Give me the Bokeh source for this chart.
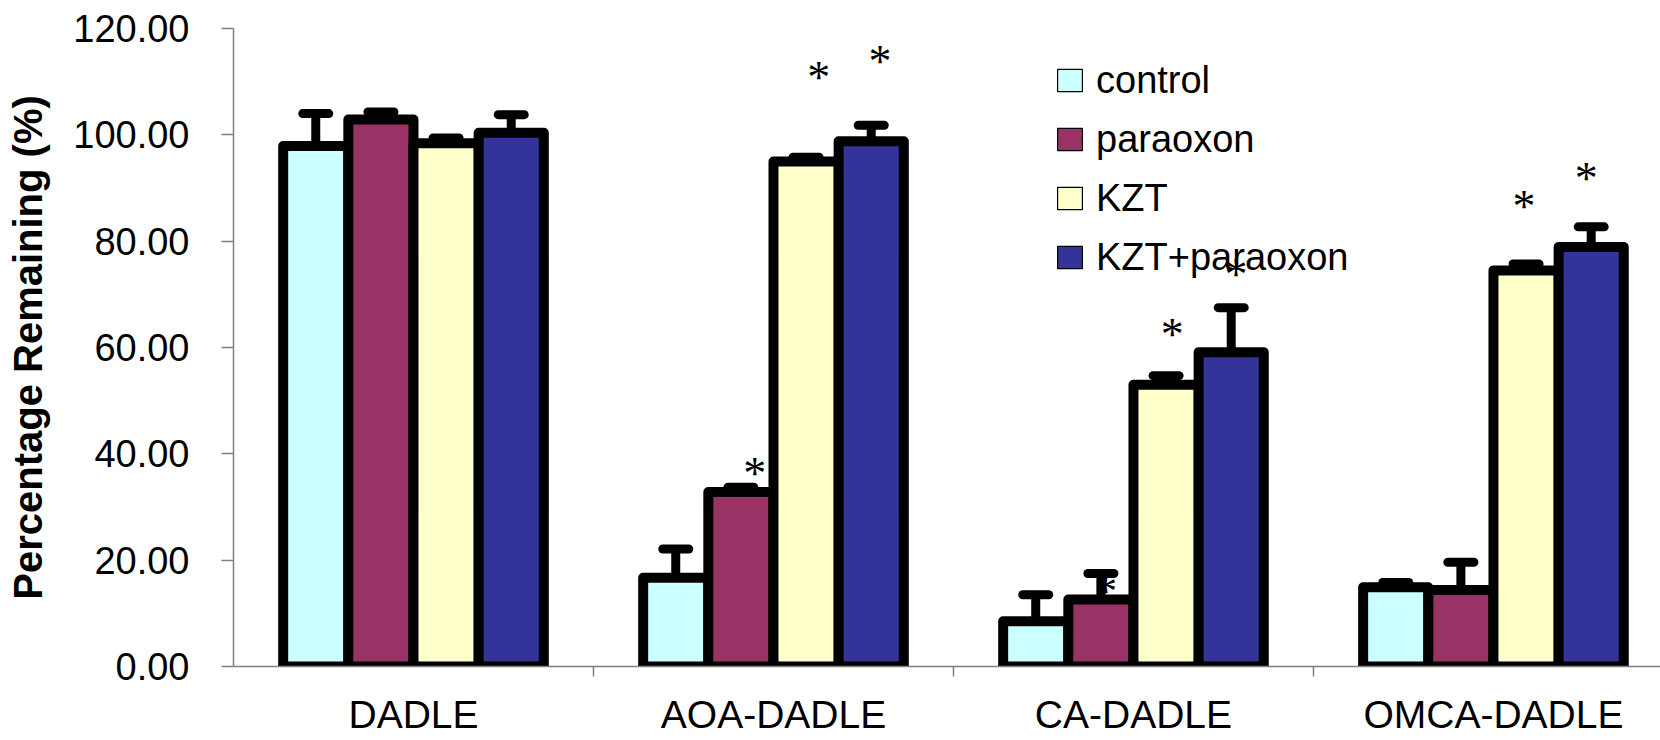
from bokeh.plotting import figure
from bokeh.models import (ColumnDataSource, Whisker, TeeHead, FixedTicker, Legend,
                          LegendItem, Range1d, PrintfTickFormatter)
from bokeh.core.properties import value
from bokeh.embed import file_html
from bokeh.resources import INLINE

# ---------------- data ----------------
categories = ["DADLE", "AOA-DADLE", "CA-DADLE", "OMCA-DADLE"]
series = ["control", "paraoxon", "KZT", "KZT+paraoxon"]

control = [97.9, 16.7, 8.5, 14.9]
control_err = [6.1, 5.4, 5.0, 0.9]
paraoxon = [102.9, 32.8, 12.6, 14.4]
paraoxon_err = [1.4, 0.9, 4.9, 5.2]
kzt = [98.4, 95.0, 53.0, 74.5]
kzt_err = [1.0, 0.8, 1.7, 1.2]
kzt_paraoxon = [100.4, 98.8, 59.1, 78.9]
kzt_paraoxon_err = [3.4, 3.0, 8.4, 3.8]

# significance asterisks: height (in % units) per category, None = no mark
star_control = [None, None, None, None]
star_paraoxon = [None, 37.0, 14.8, None]
star_kzt = [None, 111.6, 63.2, 87.2]
star_kzt_paraoxon = [None, 114.6, 74.5, 92.6]

y_ticks = [0, 20, 40, 60, 80, 100, 120]

# ---------------- style / layout ----------------
colors = ["#CCFFFF", "#993366", "#FFFFCC", "#333399"]
BAR_W = 0.181
# small horizontal shifts of the asterisks (category units)
star_dx = [
    [0, 0, 0, 0],
    [0, 0.033, 0.008, 0],
    [0, 0.030, 0.012, -0.011],
    [0, 0.019, 0.008, -0.019],
]
AXIS_GRAY = "#808080"
FONT = "Liberation Sans"

values = [control, paraoxon, kzt, kzt_paraoxon]
errors = [control_err, paraoxon_err, kzt_err, kzt_paraoxon_err]
stars = [star_control, star_paraoxon, star_kzt, star_kzt_paraoxon]

p = figure(width=1660, height=740,
           x_range=Range1d(0, 3.964), y_range=Range1d(0, 120),
           output_backend="svg", toolbar_location=None,
           min_border_left=233, min_border_right=0,
           min_border_top=28, min_border_bottom=74)
p.xgrid.visible = False
p.ygrid.visible = False
p.outline_line_color = None
p.background_fill_color = "white"
p.border_fill_color = "white"

bar_sources = []
for j, name in enumerate(series):
    xs = [i + 0.5 + (j - 1.5) * BAR_W for i in range(len(categories))]
    src = ColumnDataSource(dict(
        x=xs, top=values[j],
        upper=[v + e for v, e in zip(values[j], errors[j])],
        lower=values[j]))
    bar_sources.append(src)

# legend swatches: zero-height bars on the baseline (hidden under the real
# bars' outlines) carrying the thin-outlined legend style
items = []
for j, name in enumerate(series):
    r = p.vbar(x="x", top=0, bottom=0, width=BAR_W, source=bar_sources[j],
               fill_color=colors[j], line_color="black", line_width=1.2)
    items.append(LegendItem(label=name, renderers=[r]))

for j, name in enumerate(series):
    p.vbar(x="x", top="top", bottom=0, width=BAR_W, source=bar_sources[j],
           fill_color=colors[j], line_color="black", line_width=10,
           line_join="round")

# asterisks
sx, sy = [], []
for j in range(len(series)):
    for i in range(len(categories)):
        if stars[j][i] is not None:
            sx.append(i + 0.5 + (j - 1.5) * BAR_W + star_dx[j][i])
            sy.append(stars[j][i])
p.text(x=sx, y=sy, text=["*"] * len(sx), text_align="center",
       text_baseline="alphabetic", x_offset=2, y_offset=4,
       text_font=value("Liberation Serif"), text_font_size="46px",
       text_color="black")

# error bars (upper only)
for src in bar_sources:
    w = Whisker(source=src, base="x", upper="upper", lower="lower",
                dimension="height", line_color="black", line_width=9,
                upper_head=TeeHead(size=26, line_color="black", line_width=9,
                                   line_cap="round"),
                lower_head=None, level="annotation")
    p.add_layout(w)

legend = Legend(items=items, location=(821, 387), orientation="vertical",
                glyph_width=31, glyph_height=28, label_standoff=11,
                spacing=15, padding=0, margin=0, label_height=44,
                label_text_font=FONT, label_text_font_size="38px",
                label_text_color="black",
                border_line_color=None, background_fill_alpha=0)
p.add_layout(legend)

# y axis
yax = p.yaxis[0]
yax.ticker = FixedTicker(ticks=y_ticks)
yax.formatter = PrintfTickFormatter(format="%.2f")
yax.major_tick_out = 12
yax.major_tick_in = 0
yax.minor_tick_out = 0
yax.minor_tick_in = 0
yax.axis_line_color = AXIS_GRAY
yax.axis_line_width = 1.5
yax.major_tick_line_color = AXIS_GRAY
yax.major_tick_line_width = 1.5
yax.major_label_text_font = FONT
yax.major_label_text_font_size = "38px"
yax.major_label_text_color = "black"
yax.major_label_standoff = 32
yax.axis_label = "Percentage Remaining (%)"
yax.axis_label_text_font = FONT
yax.axis_label_text_font_size = "40px"
yax.axis_label_text_font_style = "bold"
yax.axis_label_text_color = "black"
yax.axis_label_standoff = 20

# x axis: labels at category centres, separator ticks between categories
xax = p.xaxis[0]
xax.ticker = FixedTicker(ticks=[i + 0.5 for i in range(len(categories))],
                         minor_ticks=list(range(1, len(categories))))
xax.major_label_overrides = {i + 0.5: c for i, c in enumerate(categories)}
xax.major_tick_out = 0
xax.major_tick_in = 0
xax.minor_tick_out = 10
xax.minor_tick_in = 0
xax.minor_tick_line_color = AXIS_GRAY
xax.minor_tick_line_width = 1.5
xax.axis_line_color = AXIS_GRAY
xax.axis_line_width = 1.5
xax.major_label_text_font = FONT
xax.major_label_text_font_size = "39px"
xax.major_label_text_color = "black"
xax.major_label_standoff = 16

open("out.html", "w").write(file_html(p, INLINE))
